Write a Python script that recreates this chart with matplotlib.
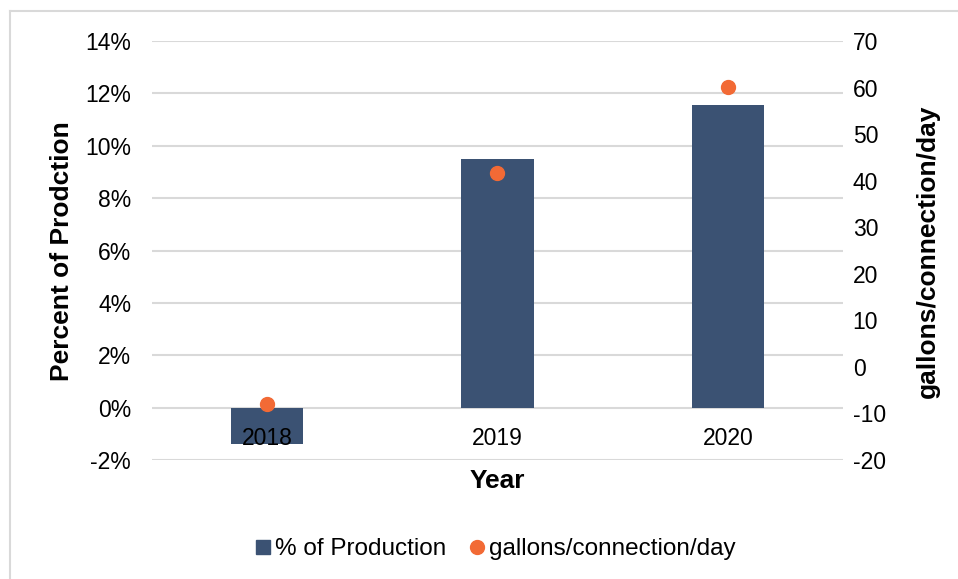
import matplotlib
matplotlib.use("Agg")
import matplotlib.pyplot as plt
from matplotlib.lines import Line2D
import matplotlib.transforms as mtransforms

years = ["2018", "2019", "2020"]
pct_production = [-1.37, 9.5, 11.56]
gallons_per_conn = [-8.0, 41.6, 60.1]
left_ticks = [-2, 0, 2, 4, 6, 8, 10, 12, 14]
right_ticks = [-20, -10, 0, 10, 20, 30, 40, 50, 60, 70]

bar_color = "#3B5273"
dot_color = "#F26A35"
grid_color = "#D9D9D9"

plt.rcParams['font.family'] = ['Liberation Sans', 'DejaVu Sans']
plt.rcParams['axes.unicode_minus'] = False

fig = plt.figure(figsize=(9.58, 5.79), dpi=100)
ax = fig.add_axes([152/958, 1 - 460/579, (843-152)/958, (460-41)/579])
ax2 = ax.twinx()

x = list(range(len(years)))
ax.set_zorder(1)
ax.patch.set_visible(False)
ax2.set_zorder(2)
ax2.patch.set_visible(False)

ax.bar(x, pct_production, width=0.315, color=bar_color, zorder=3)
ax.set_ylim(-2, 14)
ax.set_xlim(-0.5, 2.5)
ax.set_yticks(left_ticks)
ax.set_yticklabels([f"{t}%" for t in left_ticks])
ax.yaxis.grid(True, color=grid_color, linewidth=1.5, zorder=0)
ax.set_axisbelow(True)
ax.set_xticks([])
for s in ax.spines.values():
    s.set_visible(False)
ax.tick_params(axis='y', length=0, pad=15, labelsize=16.5)

trans = mtransforms.blended_transform_factory(ax.transData, ax.transData)
offset = mtransforms.offset_copy(trans, fig=fig, x=0, y=-19, units='dots')
for xi, lab in zip(x, years):
    ax.text(xi, 0, lab, ha='center', va='top', fontsize=16.5, transform=offset, zorder=5)

ax2.plot(x, gallons_per_conn, 'o', color=dot_color, markersize=10, zorder=4)
ax2.set_ylim(-20, 70)
ax2.set_yticks(right_ticks)
ax2.tick_params(axis='y', length=0, pad=7, labelsize=16.5)
for s in ax2.spines.values():
    s.set_visible(False)

fig.text(62/958, 1 - 251/579, "Percent of Prodction", rotation=90, ha='center', va='center',
         fontsize=19, fontweight='bold')
fig.text(928/958, 1 - 251/579, "gallons/connection/day", rotation=90, ha='center', va='center',
         fontsize=19, fontweight='bold')
fig.text(497/958, 1 - 481/579, "Year", ha='center', va='center', fontsize=19, fontweight='bold')

handles = [Line2D([], [], marker='s', linestyle='none', color=bar_color, markersize=10),
           Line2D([], [], marker='o', linestyle='none', color=dot_color, markersize=10)]
fig.legend(handles, ["% of Production", "gallons/connection/day"], loc='center',
           bbox_to_anchor=(494/958, 1 - 549/579), ncol=2, frameon=False, fontsize=17.5,
           handletextpad=0.05, columnspacing=0.8, handlelength=0.9)

# chart border
fig.add_artist(Line2D([10/958, 10/958], [0, 1 - 11/579], transform=fig.transFigure, color=grid_color, linewidth=1.5))
fig.add_artist(Line2D([10/958, 1], [1 - 11/579, 1 - 11/579], transform=fig.transFigure, color=grid_color, linewidth=1.5))

fig.savefig("out.png", dpi=100)
